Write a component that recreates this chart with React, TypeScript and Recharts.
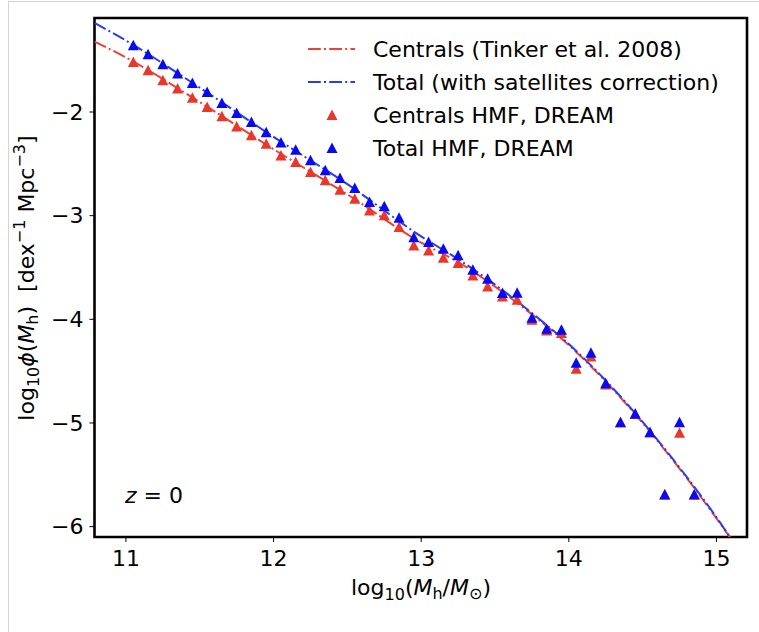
import React from 'react';
import { ComposedChart, Line, Scatter, XAxis, YAxis, ReferenceArea } from 'recharts';

// DREAM halo mass function points (log10 M_h bins)
const massBins = [
  11.05, 11.15, 11.25, 11.35, 11.45, 11.55, 11.65, 11.75, 11.85, 11.95,
  12.05, 12.15, 12.25, 12.35, 12.45, 12.55, 12.65, 12.75, 12.85, 12.95,
  13.05, 13.15, 13.25, 13.35, 13.45, 13.55, 13.65, 13.75, 13.85, 13.95,
  14.05, 14.15, 14.25, 14.35, 14.45, 14.55, 14.65, 14.75, 14.85,
];
const centralsDream = [
  -1.517, -1.597, -1.694, -1.774, -1.862, -1.952, -2.042, -2.139, -2.225, -2.305,
  -2.419, -2.483, -2.579, -2.659, -2.749, -2.836, -2.949, -2.997, -3.11, -3.287,
  -3.335, -3.406, -3.457, -3.576, -3.683, -3.779, -3.811, -4.004, -4.107, -4.133,
  -4.476, -4.358, -4.629, -4.992, -4.912, -5.089, -5.691, -5.095, -5.691,
];
const totalDream = [
  -1.356, -1.443, -1.54, -1.629, -1.72, -1.807, -1.913, -2.01, -2.097, -2.196,
  -2.293, -2.363, -2.466, -2.563, -2.637, -2.734, -2.869, -2.91, -3.019, -3.207,
  -3.255, -3.319, -3.383, -3.522, -3.608, -3.747, -3.743, -3.985, -4.091, -4.101,
  -4.419, -4.322, -4.616, -4.992, -4.912, -5.089, -5.691, -4.992, -5.691,
];

// model curves
const modelMass = [10.787, 11.0, 11.5, 12.0, 12.5, 13.0, 13.25, 13.5, 13.75, 14.0, 14.25, 14.5, 14.75, 15.0, 15.1];
const centralsTinker = [-1.32, -1.474, -1.904, -2.359, -2.795, -3.26, -3.447, -3.685, -3.952, -4.249, -4.6, -5.0, -5.44, -5.92, -6.12];
const totalModel = [-1.14, -1.31, -1.765, -2.24, -2.696, -3.2, -3.42, -3.665, -3.94, -4.239, -4.59, -4.99, -5.43, -5.91, -6.12];

const xTicks = [11, 12, 13, 14, 15];
const yTicks = [-6, -5, -4, -3, -2];
const xDomain = [10.787, 15.207];
const yDomain = [-6.1, -1.093];

const RED = '#e8382b';
const BLUE = '#0a0af0';
const RED_LINE = '#ee4136';
const BLUE_LINE = '#2a3cee';
const FONT = 'DejaVu Sans';
const DASH = '12.8 3.2 2 3.2';

const centralPts = massBins.map((x, i) => ({ x, y: centralsDream[i] }));
const totalPts = massBins.map((x, i) => ({ x, y: totalDream[i] }));
const centralLine = modelMass.map((x, i) => ({ x, y: centralsTinker[i] }));
const totalLine = modelMass.map((x, i) => ({ x, y: totalModel[i] }));

const fmt = (v: number) => String(v).replace('-', '\u2212');

const triangle = (color: string) => (props: any) => {
  const { cx, cy } = props;
  if (cx == null || cy == null) return <g />;
  return <path d={`M${cx},${cy - 5.5}L${cx + 5.5},${cy + 5}L${cx - 5.5},${cy + 5}Z`} fill={color} />;
};

const legendRows = [
  { label: 'Centrals (Tinker et al. 2008)', color: RED_LINE, kind: 'line' },
  { label: 'Total (with satellites correction)', color: BLUE_LINE, kind: 'line' },
  { label: 'Centrals HMF, DREAM', color: RED, kind: 'marker' },
  { label: 'Total HMF, DREAM', color: BLUE, kind: 'marker' },
];

const Overlay = () => (
  <svg width={759} height={632} style={{ position: 'absolute', left: 0, top: 0, pointerEvents: 'none' }} fontFamily={FONT}>
    <line x1={8} y1={1.5} x2={759} y2={1.5} stroke="#d4d4d4" />
    <line x1={8.5} y1={1} x2={8.5} y2={632} stroke="#d4d4d4" />
    {legendRows.map((r, i) => {
      const cy = 49 + i * 33;
      return (
        <g key={r.label}>
          {r.kind === 'line' ? (
            <line x1={308} y1={cy} x2={355} y2={cy} stroke={r.color} strokeWidth={2} strokeDasharray={DASH} />
          ) : (
            <path d={`M332,${cy - 5.5}L337.5,${cy + 5}L326.5,${cy + 5}Z`} fill={r.color} />
          )}
          <text x={373} y={cy + 8} fontSize={22} fill="#000">{r.label}</text>
        </g>
      );
    })}
    <text x={125} y={503} fontSize={22} fill="#000">
      <tspan fontStyle="italic">z</tspan> = 0
    </text>
    <text x={421} y={595} fontSize={22} fill="#000" textAnchor="middle">
      log<tspan fontSize={16} dy={5}>10</tspan>
      <tspan dy={-5}>(</tspan>
      <tspan fontStyle="italic">M</tspan>
      <tspan fontSize={16} dy={4}>h</tspan>
      <tspan dy={-4}>/</tspan>
      <tspan fontStyle="italic">M</tspan>
      <tspan fontSize={16} dy={4}>{'\u2299'}</tspan>
      <tspan dy={-4}>)</tspan>
    </text>
    <text transform="translate(34,278) rotate(-90)" fontSize={22} fill="#000" textAnchor="middle">
      log<tspan fontSize={16} dy={5}>10</tspan>
      <tspan dy={-5} fontStyle="italic">{'\u03d5'}</tspan>
      <tspan>(</tspan>
      <tspan fontStyle="italic">M</tspan>
      <tspan fontSize={16} dy={4}>h</tspan>
      <tspan dy={-4}>{')\u00a0\u00a0[dex'}</tspan>
      <tspan fontSize={16} dy={-9}>{'\u22121'}</tspan>
      <tspan dy={9}>{'\u00a0Mpc'}</tspan>
      <tspan fontSize={16} dy={-9}>{'\u22123'}</tspan>
      <tspan dy={9}>]</tspan>
    </text>
  </svg>
);

export default function App() {
  const tickStyle = { fontSize: 22, fill: '#000', fontFamily: FONT };
  return (
    <div style={{ position: 'absolute', left: 0, top: 0, width: 759, height: 632, background: '#fff' }}>
      <ComposedChart width={759} height={632} margin={{ top: 18, right: 12, bottom: 65, left: 34.5 }}>
        <XAxis
          type="number"
          dataKey="x"
          domain={xDomain}
          ticks={xTicks}
          allowDataOverflow
          axisLine={false}
          tickLine={{ stroke: '#000', strokeWidth: 1 }}
          tickSize={5}
          tickMargin={8}
          tick={tickStyle}
          tickFormatter={fmt}
          height={30}
        />
        <YAxis
          type="number"
          dataKey="y"
          domain={yDomain}
          ticks={yTicks}
          allowDataOverflow
          axisLine={false}
          tickLine={{ stroke: '#000', strokeWidth: 1 }}
          tickSize={5}
          tickMargin={6}
          tick={tickStyle}
          tickFormatter={fmt}
          width={60}
        />
        <Line data={centralLine} dataKey="y" type="monotone" stroke={RED_LINE} strokeWidth={2} strokeDasharray={DASH} dot={false} isAnimationActive={false} />
        <Line data={totalLine} dataKey="y" type="monotone" stroke={BLUE_LINE} strokeWidth={2} strokeDasharray={DASH} dot={false} isAnimationActive={false} />
        <Scatter data={centralPts} dataKey="y" shape={triangle(RED)} isAnimationActive={false} />
        <Scatter data={totalPts} dataKey="y" shape={triangle(BLUE)} isAnimationActive={false} />
        <ReferenceArea x1={xDomain[0]} x2={xDomain[1]} y1={yDomain[0]} y2={yDomain[1]} fill="none" stroke="#000" strokeWidth={2.6} ifOverflow="visible" />
      </ComposedChart>
      <Overlay />
    </div>
  );
}
